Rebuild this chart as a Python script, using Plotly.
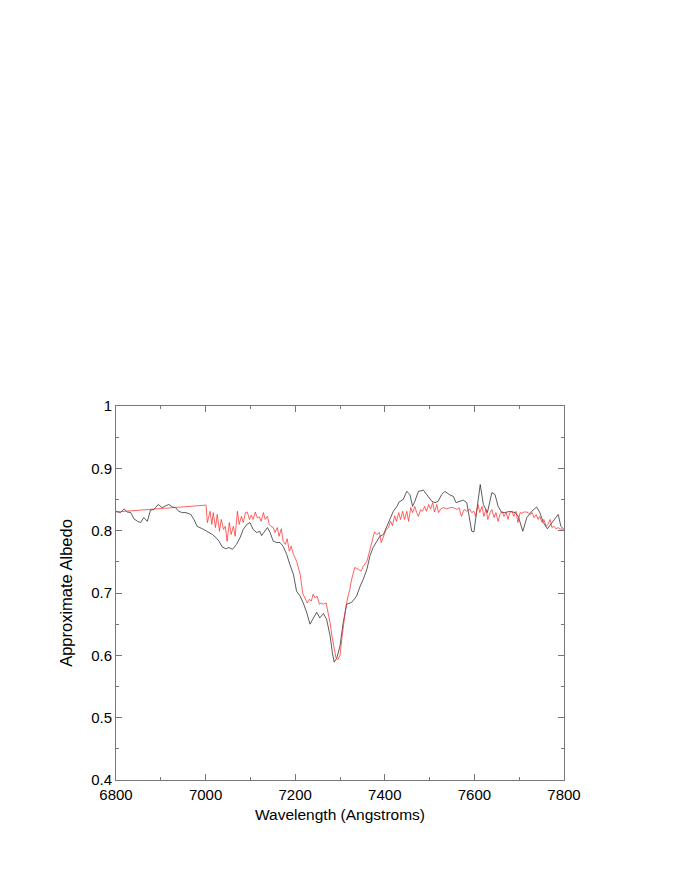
import plotly.graph_objects as go

# black spectrum (wavelength in Angstroms, approximate albedo)
black_wave = [6800, 6810, 6818, 6825, 6833, 6840, 6848, 6855, 6862, 6870,
              6877, 6885, 6894, 6903, 6911, 6918, 6926, 6933, 6940, 6948,
              6956, 6967, 6974, 6981, 6993, 7004, 7015, 7023, 7030, 7037,
              7045, 7052, 7060, 7069, 7077, 7084, 7092, 7099, 7106, 7114,
              7121, 7125, 7133, 7138, 7144, 7151, 7159, 7166, 7173, 7181,
              7188, 7196, 7203, 7211, 7218, 7226, 7233, 7240, 7248, 7255,
              7263, 7270, 7278, 7283, 7287, 7293, 7300, 7307, 7315, 7326,
              7337, 7345, 7352, 7360, 7367, 7374, 7382, 7389, 7397, 7404,
              7412, 7419, 7427, 7432, 7441, 7449, 7456, 7462, 7467, 7475,
              7486, 7497, 7505, 7512, 7519, 7527, 7534, 7546, 7553, 7559,
              7566, 7575, 7583, 7588, 7594, 7599, 7605, 7613, 7620, 7629,
              7639, 7646, 7653, 7661, 7668, 7679, 7691, 7698, 7708, 7717,
              7728, 7739, 7746, 7754, 7763, 7773, 7780, 7787, 7793, 7800]
black_albedo = [0.831, 0.829, 0.835, 0.830, 0.829, 0.819, 0.815, 0.813, 0.821, 0.815,
                0.833, 0.834, 0.842, 0.837, 0.840, 0.842, 0.838, 0.837, 0.831, 0.829,
                0.829, 0.826, 0.818, 0.807, 0.803, 0.799, 0.794, 0.789, 0.783, 0.774,
                0.771, 0.773, 0.770, 0.778, 0.789, 0.802, 0.810, 0.813, 0.802, 0.797,
                0.799, 0.792, 0.799, 0.805, 0.797, 0.783, 0.781, 0.781, 0.775, 0.762,
                0.746, 0.730, 0.703, 0.695, 0.684, 0.668, 0.650, 0.660, 0.669, 0.660,
                0.667, 0.658, 0.631, 0.604, 0.589, 0.596, 0.615, 0.652, 0.682, 0.685,
                0.695, 0.711, 0.722, 0.738, 0.760, 0.773, 0.783, 0.791, 0.794, 0.805,
                0.818, 0.831, 0.839, 0.846, 0.850, 0.863, 0.858, 0.839, 0.847, 0.863,
                0.865, 0.855, 0.847, 0.845, 0.847, 0.858, 0.863, 0.857, 0.855, 0.845,
                0.847, 0.849, 0.845, 0.821, 0.799, 0.798, 0.834, 0.874, 0.842, 0.829,
                0.861, 0.858, 0.839, 0.829, 0.829, 0.831, 0.829, 0.823, 0.799, 0.821,
                0.831, 0.838, 0.829, 0.813, 0.803, 0.813, 0.818, 0.826, 0.807, 0.802]

# red spectrum
red_wave = [6800, 6998, 7001, 7004, 7010, 7014, 7017, 7022, 7026, 7031,
            7035, 7040, 7044, 7048, 7053, 7057, 7062, 7066, 7071, 7075,
            7080, 7084, 7089, 7093, 7098, 7102, 7106, 7111, 7115, 7120,
            7124, 7129, 7133, 7138, 7142, 7146, 7151, 7155, 7160, 7164,
            7169, 7173, 7178, 7182, 7187, 7191, 7196, 7203, 7211, 7217,
            7222, 7227, 7232, 7236, 7240, 7245, 7249, 7254, 7258, 7263,
            7269, 7273, 7278, 7282, 7287, 7291, 7295, 7300, 7304, 7309,
            7313, 7318, 7322, 7326, 7330, 7333, 7341, 7347, 7352, 7360,
            7363, 7371, 7377, 7382, 7388, 7392, 7396, 7403, 7408, 7413,
            7417, 7422, 7426, 7431, 7435, 7440, 7444, 7449, 7453, 7458,
            7462, 7467, 7471, 7475, 7480, 7484, 7489, 7493, 7498, 7502,
            7507, 7511, 7516, 7520, 7525, 7530, 7538, 7546, 7553, 7561,
            7566, 7571, 7577, 7583, 7589, 7594, 7599, 7603, 7608, 7612,
            7617, 7621, 7626, 7630, 7635, 7639, 7644, 7648, 7653, 7657,
            7662, 7666, 7671, 7675, 7679, 7684, 7688, 7693, 7697, 7702,
            7706, 7711, 7715, 7720, 7724, 7729, 7733, 7738, 7742, 7746,
            7751, 7755, 7760, 7764, 7769, 7773, 7778, 7782, 7787, 7791,
            7796, 7800]
red_albedo = [0.830, 0.842, 0.841, 0.813, 0.831, 0.810, 0.829, 0.805, 0.826, 0.799,
              0.818, 0.802, 0.807, 0.783, 0.813, 0.794, 0.807, 0.791, 0.831, 0.810,
              0.823, 0.813, 0.829, 0.830, 0.818, 0.825, 0.818, 0.830, 0.821, 0.822,
              0.815, 0.829, 0.818, 0.823, 0.810, 0.807, 0.805, 0.797, 0.805, 0.791,
              0.803, 0.783, 0.778, 0.787, 0.767, 0.775, 0.762, 0.751, 0.730, 0.699,
              0.690, 0.684, 0.690, 0.687, 0.698, 0.692, 0.695, 0.682, 0.684, 0.682,
              0.684, 0.671, 0.652, 0.631, 0.609, 0.596, 0.593, 0.600, 0.626, 0.654,
              0.677, 0.695, 0.706, 0.722, 0.733, 0.741, 0.738, 0.735, 0.743, 0.751,
              0.759, 0.781, 0.798, 0.794, 0.797, 0.781, 0.789, 0.802, 0.805, 0.815,
              0.808, 0.824, 0.815, 0.829, 0.818, 0.831, 0.818, 0.831, 0.815, 0.837,
              0.829, 0.839, 0.829, 0.823, 0.834, 0.831, 0.839, 0.831, 0.842, 0.835,
              0.845, 0.830, 0.842, 0.829, 0.835, 0.837, 0.835, 0.837, 0.837, 0.834,
              0.837, 0.823, 0.834, 0.831, 0.835, 0.829, 0.831, 0.823, 0.842, 0.829,
              0.839, 0.823, 0.834, 0.818, 0.829, 0.834, 0.821, 0.829, 0.815, 0.826,
              0.831, 0.823, 0.829, 0.818, 0.829, 0.831, 0.823, 0.831, 0.813, 0.829,
              0.828, 0.830, 0.830, 0.829, 0.826, 0.829, 0.821, 0.826, 0.818, 0.823,
              0.813, 0.818, 0.807, 0.810, 0.818, 0.805, 0.807, 0.803, 0.805, 0.803,
              0.802, 0.799]

fig = go.Figure()

fig.add_trace(go.Scatter(
    x=black_wave, y=black_albedo,
    mode='lines',
    line=dict(color='#333333', width=0.8),
    showlegend=False
))

fig.add_trace(go.Scatter(
    x=red_wave, y=red_albedo,
    mode='lines',
    line=dict(color='#ff2020', width=0.7),
    showlegend=False
))

family = 'Liberation Sans, Arial, sans-serif'

axis_common = dict(
    showgrid=False,
    zeroline=False,
    showline=True,
    linecolor='#777777',
    linewidth=1,
    mirror='allticks',
    ticks='inside',
    ticklen=6,
    tickcolor='#777777',
    tickfont=dict(family=family, size=15, color='black'),
)

fig.update_xaxes(
    range=[6800, 7800],
    tick0=6800, dtick=200,
    ticklabelstandoff=1,
    minor=dict(dtick=100, ticks='inside', ticklen=3, tickcolor='#777777'),
    title=dict(text='Wavelength (Angstroms)', standoff=7,
               font=dict(family=family, size=15.5, color='black')),
    **axis_common
)

fig.update_yaxes(
    range=[0.4, 1.0],
    tick0=0.4, dtick=0.1,
    minor=dict(dtick=0.05, ticks='inside', ticklen=3, tickcolor='#777777'),
    title=dict(text='Approximate Albedo', standoff=14,
               font=dict(family=family, size=16.5, color='black')),
    **axis_common
)

# the page body adds an 8px offset, margins compensate for it
fig.update_layout(
    width=680, height=880,
    margin=dict(l=108, r=124, t=398, b=108),
    plot_bgcolor='white',
    paper_bgcolor='white',
)

fig.write_html("out.html")
